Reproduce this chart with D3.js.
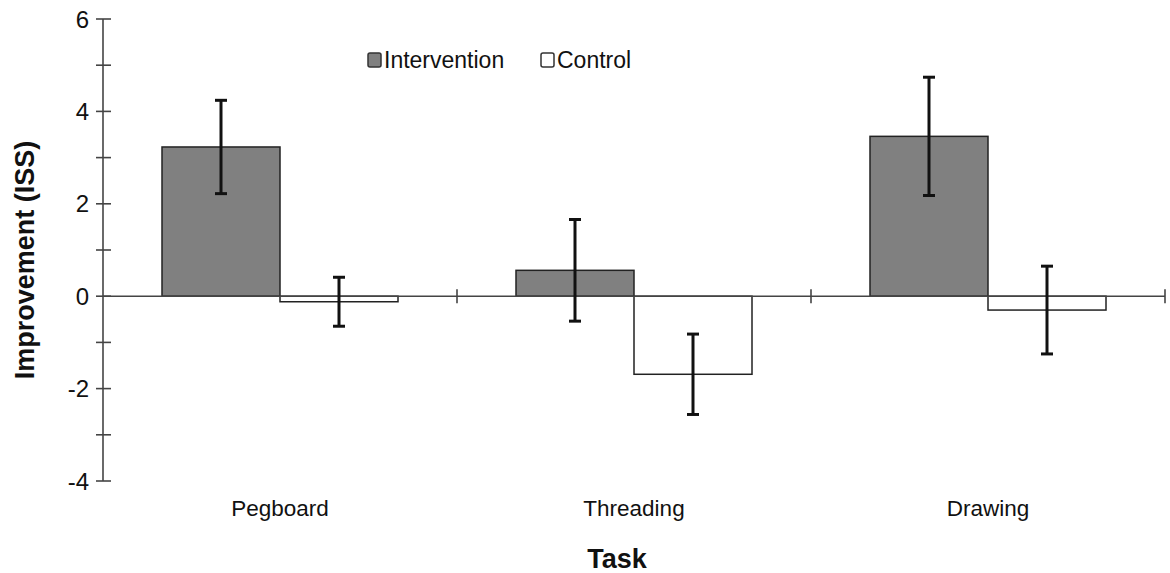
<!DOCTYPE html>
<html><head><meta charset="utf-8">
<script src="https://cdn.jsdelivr.net/npm/d3@7"></script>
<style>body{margin:0;background:#fff}svg{display:block;font-family:"Liberation Sans",Arial,sans-serif}</style>
</head><body><svg id="c" width="1170" height="573"></svg>
<script>
const categories = ["Pegboard", "Threading", "Drawing"];
const series = ["Intervention", "Control"];
const interventionMean = [3.23, 0.56, 3.46];
const interventionErr = [1.01, 1.10, 1.28];
const controlMean = [-0.12, -1.69, -0.30];
const controlErr = [0.53, 0.87, 0.95];
const yTicks = [-4, -3, -2, -1, 0, 1, 2, 3, 4, 5, 6];
const yLabels = [-4, -2, 0, 2, 4, 6];

(function () {
const svg = d3.select("#c");
const mLeft = 103, mRight = 1165, mTop = 19, mBottom = 481;
const y = d3.scaleLinear().domain([-4, 6]).range([mBottom, mTop]);
const x0 = d3.scaleBand().domain(categories).range([mLeft, mRight]).paddingInner(0).paddingOuter(0);
const x1 = d3.scaleBand().domain(series).range([0, x0.bandwidth()]).paddingInner(0).paddingOuter(0.5);
const fills = {Intervention: "#808080", Control: "#ffffff"};
const axisCol = "#444";

const data = [];
categories.forEach((c, i) => {
  data.push({cat: c, s: "Intervention", v: interventionMean[i], e: interventionErr[i]});
  data.push({cat: c, s: "Control", v: controlMean[i], e: controlErr[i]});
});

// bars
svg.append("g").selectAll("rect").data(data).join("rect")
  .attr("x", d => x0(d.cat) + x1(d.s))
  .attr("width", x1.bandwidth())
  .attr("y", d => y(Math.max(0, d.v)))
  .attr("height", d => Math.abs(y(d.v) - y(0)))
  .attr("fill", d => fills[d.s])
  .attr("stroke", "#222").attr("stroke-width", 1.5);

// x axis line at 0
const xa = svg.append("g").attr("stroke", axisCol).attr("stroke-width", 1.6);
xa.append("line").attr("x1", mLeft).attr("x2", mRight).attr("y1", y(0)).attr("y2", y(0));
categories.forEach(c => {
  const xe = x0(c) + x0.bandwidth();
  xa.append("line").attr("x1", xe).attr("x2", xe).attr("y1", y(0) - 7).attr("y2", y(0) + 7);
});

// y axis
const ya = svg.append("g").attr("stroke", axisCol).attr("stroke-width", 1.6);
ya.append("line").attr("x1", mLeft).attr("x2", mLeft).attr("y1", y(6)).attr("y2", y(-4));
yTicks.forEach(t => {
  ya.append("line").attr("x1", mLeft - 7).attr("x2", mLeft + 8).attr("y1", y(t)).attr("y2", y(t));
});
svg.append("g").selectAll("text").data(yLabels).join("text")
  .attr("x", mLeft - 14).attr("y", d => y(d)).attr("dy", "0.36em")
  .attr("text-anchor", "end").attr("font-size", 24).attr("fill", "#111")
  .text(d => d);

// error bars
const eb = svg.append("g").attr("stroke", "#111").attr("stroke-width", 3);
data.forEach(d => {
  const cx = x0(d.cat) + x1(d.s) + x1.bandwidth() / 2;
  eb.append("line").attr("x1", cx).attr("x2", cx).attr("y1", y(d.v + d.e)).attr("y2", y(d.v - d.e));
  [d.v + d.e, d.v - d.e].forEach(v => {
    eb.append("line").attr("x1", cx - 6).attr("x2", cx + 6).attr("y1", y(v)).attr("y2", y(v));
  });
});

// category labels
svg.append("g").selectAll("text").data(categories).join("text")
  .attr("x", d => x0(d) + x0.bandwidth() / 2).attr("y", 516)
  .attr("text-anchor", "middle").attr("font-size", 22.5).attr("fill", "#111")
  .text(d => d);

// axis titles
svg.append("text").attr("x", 617).attr("y", 568).attr("text-anchor", "middle")
  .attr("font-size", 27).attr("font-weight", "bold").attr("fill", "#111").text("Task");
svg.append("text").attr("transform", "translate(34,260) rotate(-90)").attr("text-anchor", "middle")
  .attr("font-size", 27).attr("font-weight", "bold").attr("fill", "#111").text("Improvement (ISS)");

// legend
const legX = [368, 541];
series.forEach((s, i) => {
  const g = svg.append("g").attr("transform", `translate(${legX[i]},53)`);
  g.append("rect").attr("x", 0).attr("y", 0).attr("width", 13).attr("height", 14).attr("rx", 2)
    .attr("fill", fills[s]).attr("stroke", "#333").attr("stroke-width", 1.5);
  g.append("text").attr("x", 16).attr("y", 7).attr("dy", "0.36em").attr("font-size", 23).attr("fill", "#111").text(s);
});
})();
</script></body></html>
